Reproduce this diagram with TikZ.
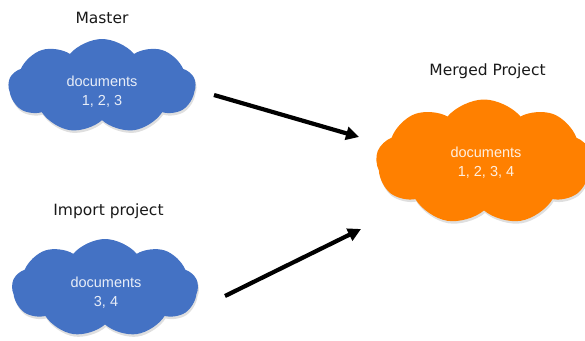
\documentclass[tikz,border=0pt]{standalone}
\usepackage{fontspec}
\setmainfont{Liberation Sans}
\newfontfamily\labelfont{DejaVu Sans}
\usetikzlibrary{shapes.symbols,arrows.meta,shadows}
\definecolor{cloudblue}{RGB}{68,114,196}
\definecolor{cloudorange}{RGB}{255,128,0}
\definecolor{labelgray}{RGB}{25,25,25}
\tikzset{
  cloudbox/.style={cloud, cloud puffs=9, cloud puff arc=100, aspect=2, inner sep=0pt, draw=none,
    drop shadow={shadow xshift=1bp, shadow yshift=-2.5bp, opacity=0.25}},
  cloudtext/.style={align=center, inner sep=0pt, text=white, text opacity=0.88,
    font=\fontsize{14.5bp}{19bp}\selectfont},
  titlelabel/.style={anchor=base, inner sep=0pt, text=labelgray, font=\labelfont\fontsize{15.5bp}{18bp}\selectfont},
  bigarrow/.style={line width=4.2bp, -{Triangle[length=13bp,width=13bp]}, black}
}
\begin{document}
\begin{tikzpicture}[x=1bp,y=-1bp]
\useasboundingbox (0,0) rectangle (585,340);
% clouds
\node[cloudbox, fill=cloudblue, minimum width=187bp, minimum height=94bp] (master) at (102,86) {};
\node[cloudbox, fill=cloudblue, minimum width=186bp, minimum height=98bp] (import) at (105,288) {};
\node[cloudbox, fill=cloudorange, minimum width=216bp, minimum height=125bp] (merged) at (484,162) {};
% cloud texts
\node[cloudtext] (mastertext) at (102,92) {documents\\1, 2, 3};
\node[cloudtext] (importtext) at (106,293) {documents\\3, 4};
\node[cloudtext] (mergedtext) at (486,163) {documents\\1, 2, 3, 4};
% titles
\node[titlelabel] (mastertitle) at (102,23) {Master};
\node[titlelabel] (importtitle) at (108.5,215) {Import project};
\node[titlelabel] (mergedtitle) at (487.5,75) {Merged Project};
% arrows
\coordinate (a1s) at (214,95);
\coordinate (a1e) at (359,137);
\coordinate (a2s) at (225,296);
\coordinate (a2e) at (361,229);
\draw[bigarrow] (a1s) -- (a1e);
\draw[bigarrow] (a2s) -- (a2e);
\end{tikzpicture}
\end{document}
